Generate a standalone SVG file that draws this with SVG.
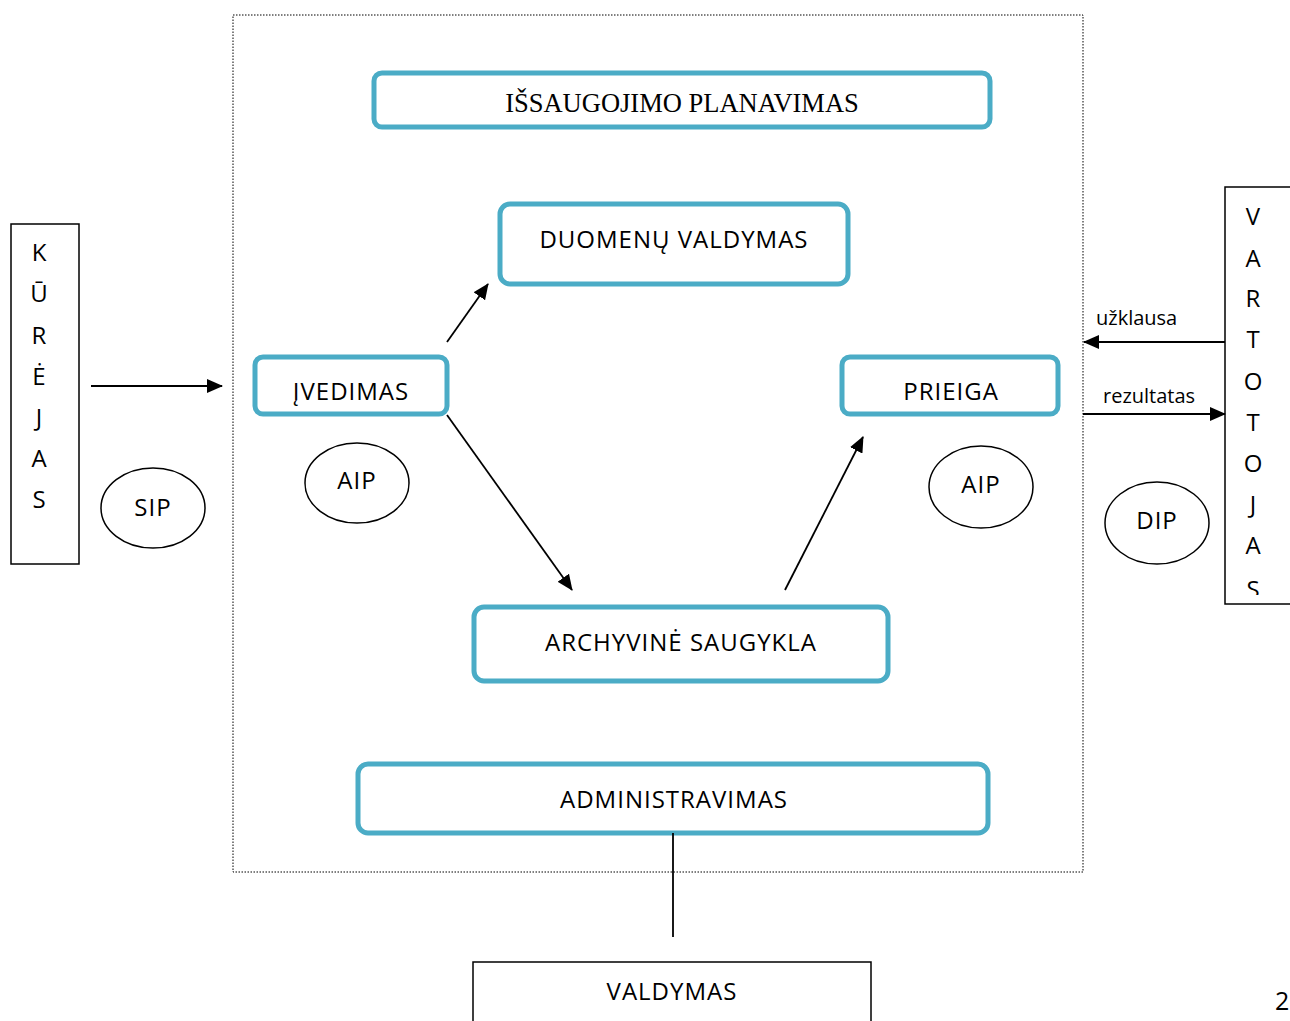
<svg xmlns="http://www.w3.org/2000/svg" width="1290" height="1021" viewBox="0 0 1290 1021">
<style>
.blue{fill:#fff;stroke:#4bacc6;stroke-width:5}
.plain{fill:#fff;stroke:#000;stroke-width:1.5}
.t{font-family:"Open Sans",Lato,"Liberation Sans",sans-serif;font-size:24px;letter-spacing:1px;fill:#000;text-anchor:middle}
.s{font-family:"Liberation Serif",serif;font-size:26.5px;fill:#000;text-anchor:middle}
.lab{font-family:"Open Sans",Lato,"Liberation Sans",sans-serif;font-size:20px;fill:#000}
.conn{stroke:#000;stroke-width:1.8;fill:none}
</style>
<defs>
<marker id="ahb" markerWidth="16" markerHeight="14" refX="15" refY="7" orient="auto" markerUnits="userSpaceOnUse" viewBox="0 0 16 14">
<path d="M0,0 L16,7 L0,14 z" fill="#000"/>
</marker>
<clipPath id="vclip"><rect x="1220" y="180" width="70" height="415"/></clipPath>
</defs>
<rect x="0" y="0" width="1290" height="1021" fill="#fff"/>
<rect id="frame" x="233" y="15" width="850" height="857" fill="none" stroke="#000" stroke-width="1" stroke-dasharray="1.5,1.5"/>

<g id="kurejas">
<rect x="11" y="224" width="68" height="340" class="plain"/>
<g class="t" style="letter-spacing:0">
<text x="39" y="261">K</text><text x="39" y="302">Ū</text><text x="39" y="344">R</text><text x="39" y="385">Ė</text><text x="39" y="426">J</text><text x="39" y="467">A</text><text x="39" y="508">S</text>
</g>
</g>

<g id="vartotojas">
<rect x="1225" y="187" width="80" height="417" class="plain"/>
<g class="t" style="letter-spacing:0" clip-path="url(#vclip)">
<text x="1253" y="225">V</text><text x="1253" y="267">A</text><text x="1253" y="307">R</text><text x="1253" y="348">T</text><text x="1253" y="390">O</text><text x="1253" y="431">T</text><text x="1253" y="472">O</text><text x="1253" y="513">J</text><text x="1253" y="554">A</text><text x="1253" y="598">S</text>
</g>
</g>

<g id="issaugojimo"><rect x="374" y="73" width="616" height="54" rx="8" class="blue"/><text x="682" y="112" class="s">IŠSAUGOJIMO PLANAVIMAS</text></g>
<g id="duomenu"><rect x="500" y="204" width="348" height="80" rx="10" class="blue"/><text x="674" y="248" class="t">DUOMENŲ VALDYMAS</text></g>
<g id="ivedimas"><rect x="255" y="357" width="192" height="57" rx="8" class="blue"/><text x="351" y="400" class="t">ĮVEDIMAS</text></g>
<g id="prieiga"><rect x="842" y="357" width="216" height="57" rx="8" class="blue"/><text x="951" y="400" class="t">PRIEIGA</text></g>
<g id="archyvine"><rect x="474" y="607" width="414" height="74" rx="10" class="blue"/><text x="681" y="651" class="t">ARCHYVINĖ SAUGYKLA</text></g>
<g id="administravimas"><rect x="358" y="764" width="630" height="69" rx="10" class="blue"/><text x="674" y="808" class="t">ADMINISTRAVIMAS</text></g>
<g id="valdymas"><rect x="473" y="962" width="398" height="70" class="plain"/><text x="672" y="1000" class="t">VALDYMAS</text></g>

<g id="sip"><ellipse cx="153" cy="508" rx="52" ry="40" class="plain"/><text x="153" y="516" class="t">SIP</text></g>
<g id="aip1"><ellipse cx="357" cy="483" rx="52" ry="40" class="plain"/><text x="357" y="489" class="t">AIP</text></g>
<g id="aip2"><ellipse cx="981" cy="487" rx="52" ry="41" class="plain"/><text x="981" y="493" class="t">AIP</text></g>
<g id="dip"><ellipse cx="1157" cy="523" rx="52" ry="41" class="plain"/><text x="1157" y="529" class="t">DIP</text></g>

<g id="connectors">
<line x1="91" y1="386" x2="222" y2="386" class="conn" marker-end="url(#ahb)"/>
<line x1="447" y1="342" x2="488" y2="284" class="conn" marker-end="url(#ahb)"/>
<line x1="447" y1="415" x2="572" y2="590" class="conn" marker-end="url(#ahb)"/>
<line x1="785" y1="590" x2="863" y2="437" class="conn" marker-end="url(#ahb)"/>
<line x1="1225" y1="342" x2="1084" y2="342" class="conn" marker-end="url(#ahb)"/>
<line x1="1083" y1="414" x2="1225" y2="414" class="conn" marker-end="url(#ahb)"/>
<line x1="673" y1="833" x2="673" y2="937" class="conn"/>
</g>
<text x="1096" y="325" class="lab">užklausa</text>
<text x="1103" y="403" class="lab">rezultatas</text>
<text x="1275" y="1010" class="lab" style="font-size:25px">2</text>
</svg>
